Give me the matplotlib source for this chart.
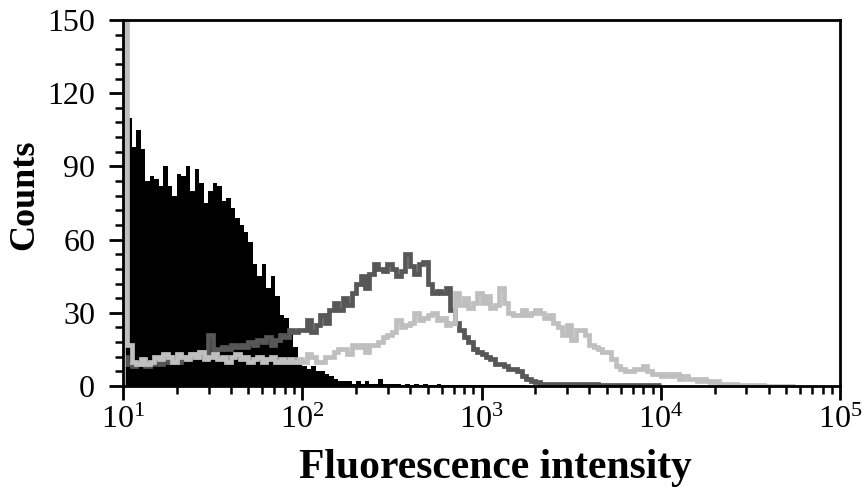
import numpy as np
import matplotlib
matplotlib.use('Agg')
import matplotlib.pyplot as plt
from matplotlib.ticker import LogLocator, MultipleLocator, FixedLocator, NullFormatter

plt.rcParams['font.family'] = ['Liberation Serif', 'DejaVu Serif']
plt.rcParams['mathtext.fontset'] = 'custom'
plt.rcParams['mathtext.rm'] = 'Liberation Serif'

# histogram channels: 40 channels per decade starting at 10^1
channels_per_decade = 40
first_decade = 1

# black filled histogram (control)
black_counts = [
    132, 110, 98, 105, 97, 84, 86, 85, 82, 90,
    82, 78, 87, 86, 90, 80, 89, 83, 75, 80,
    83, 82, 76, 77, 73, 69, 66, 63, 59, 50,
    45, 50, 40, 45, 37, 29, 28, 23, 16, 9,
    8, 7, 8, 6, 6, 5, 4, 3, 2, 2,
    2, 1, 2, 1, 2, 1, 1, 3, 1, 1,
    1, 1, 0.5, 1, 0.5, 1, 0.5, 1, 0.5, 0.5,
    1, 0.5, 0.5, 0.5, 0.5, 0.5, 0.5, 0.5, 0.5, 0.5,
    0.5, 0.5, 0.5, 0.5, 0.3, 0.3, 0.3, 0.3, 0.3, 0.3,
]

# dark grey histogram line
dark_counts = [
    12, 9, 8, 9, 10, 8, 9, 10, 9, 11,
    10, 12, 10, 11, 12, 13, 12, 14, 13, 21,
    14, 15, 16, 15, 17, 16, 17, 16, 18, 17,
    19, 18, 20, 17, 19, 21, 20, 23, 22, 23,
    23, 27, 22, 25, 29, 26, 31, 34, 31, 36,
    33, 38, 42, 45, 40, 46, 50, 48, 47, 50,
    48, 45, 47, 54, 49, 46, 50, 51, 42, 38,
    39, 38, 40, 31, 26, 23, 20, 18, 15, 14,
    13, 12, 11, 9, 9, 8, 7, 7, 6, 4,
    3, 2, 1.5, 1, 1, 1, 0.8, 0.8, 0.8, 0.8,
    0.8, 0.8, 0.8, 0.8, 0.8, 0.8, 0.5, 0.5, 0.5, 0.5,
    0.5, 0.5, 0.5, 0.5, 0.5, 0.5, 0.5, 0.5, 0.5, 0.5,
]

# light grey histogram line
light_counts = [
    160, 17, 10, 9, 11, 9, 10, 12, 11, 13,
    12, 10, 13, 12, 11, 13, 12, 14, 11, 12,
    13, 11, 12, 10, 12, 13, 11, 12, 10, 11,
    12, 10, 11, 12, 10, 11, 10, 11, 10, 11,
    10, 13, 12, 10, 10, 12, 12, 14, 15, 15,
    13, 17, 16, 17, 14, 17, 17, 18, 20, 21,
    22, 27, 24, 25, 26, 30, 27, 28, 29, 30,
    27, 28, 25, 26, 38, 33, 36, 32, 34, 38,
    34, 37, 32, 33, 40, 34, 30, 29, 29, 31,
    29, 30, 31, 30, 28, 29, 26, 24, 21, 25,
    19, 23, 23, 21, 17, 16, 15, 14, 14, 11,
    8, 7, 6, 6, 7, 7, 8, 6, 5, 5,
    4, 5, 4, 5, 3, 4, 3, 3, 2, 3,
    2, 1.5, 2, 1, 1, 1, 1, 0.5, 0.5, 0.5,
    0.5, 0.5, 0.3, 0, 0, 0, 0, 0, 0, 0,
]

y_ticks = [0, 30, 60, 90, 120, 150]


def channel_edges(n):
    return 10.0 ** (first_decade + np.arange(n + 1) / channels_per_decade)


fig = plt.figure(figsize=(8.64, 4.91), dpi=100)
ax = fig.add_axes([123 / 864, (491 - 386) / 491, (840 - 123) / 864, (386 - 20) / 491])

ax.stairs(black_counts, channel_edges(len(black_counts)), fill=True,
          color='black', linewidth=0, zorder=2)
ax.stairs(dark_counts, channel_edges(len(dark_counts)), color='#575757',
          linewidth=3.4, baseline=None, zorder=3)
ax.stairs(light_counts, channel_edges(len(light_counts)), color='#bfbfbf',
          linewidth=3.4, baseline=0, zorder=4)

ax.set_xscale('log')
ax.set_xlim(10 ** 1, 10 ** 5)
ax.set_ylim(0, 150)
ax.xaxis.set_major_locator(LogLocator(base=10, numticks=10))
ax.xaxis.set_minor_locator(LogLocator(base=10, subs=np.arange(2, 10), numticks=20))
ax.xaxis.set_minor_formatter(NullFormatter())
ax.yaxis.set_major_locator(FixedLocator(y_ticks))
ax.yaxis.set_minor_locator(MultipleLocator(6))

ax.tick_params(axis='both', which='major', direction='out', length=10, width=2,
               labelsize=23)
ax.tick_params(axis='y', which='major', pad=10)
ax.tick_params(axis='x', which='major', pad=4)
ax.tick_params(axis='both', which='minor', direction='out', length=6, width=1.8)

for s in ax.spines.values():
    s.set_linewidth(2)
    s.set_zorder(5)

ax.set_xlabel('Fluorescence intensity', fontsize=30, fontweight='bold', va='center')
ax.xaxis.set_label_coords((495 - 123) / 717, (386 - 468) / 366)
ax.set_ylabel('Counts', fontsize=26, fontweight='bold', va='center', ha='center')
ax.yaxis.set_label_coords((25 - 123) / 717, (386 - 195) / 366)

fig.savefig('out.png', dpi=100, facecolor='white')
